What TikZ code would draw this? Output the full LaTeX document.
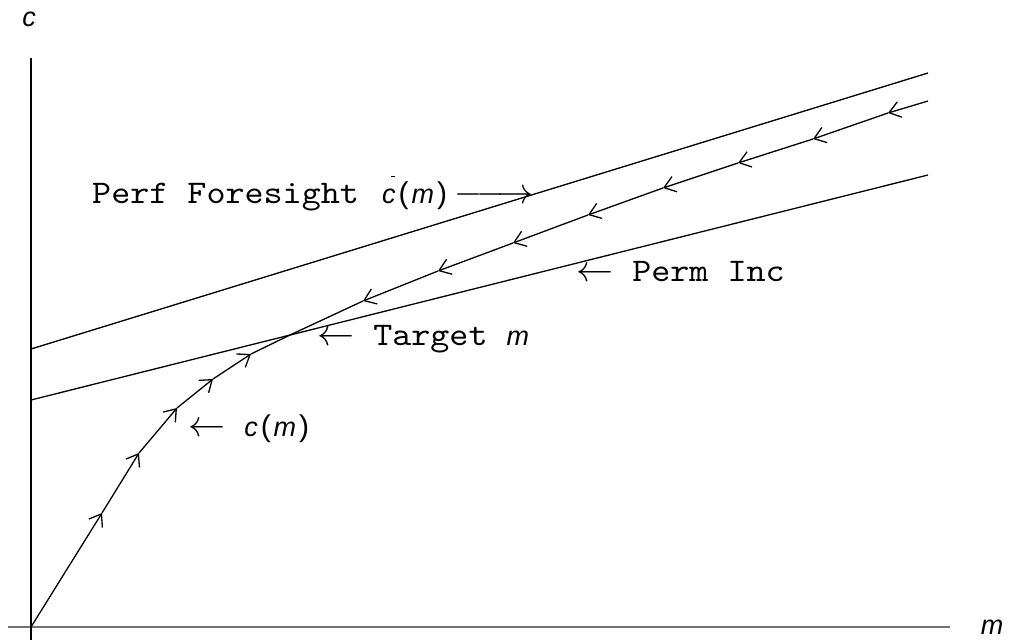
\RequirePackage{fix-cm}
\documentclass[tikz,border=0pt]{standalone}
\usepackage{fontspec}
\setmonofont{lmmono10-regular.otf}[FakeStretch=1.1]
\newfontfamily\msans{Liberation Sans}
\usetikzlibrary{arrows.meta}
\newcommand\lblfont{\fontsize{33}{38}\selectfont\ttfamily}
\newcommand\mi[1]{{\fontsize{27}{30}\selectfont\msans\itshape #1}}
\newcommand\pa[1]{{\fontsize{30}{30}\selectfont\msans\kern3pt#1\kern3pt}}
\newcommand\larr{{\fontsize{37}{40}\selectfont$\leftarrow$}}
\newcommand\rarr{{\fontsize{36}{40}\selectfont$\relbar\joinrel\relbar\joinrel\rightarrow$}}
\tikzset{
  line/.style={line width=1.3pt, black},
  axisv/.style={line width=1.3pt, black},
  axish/.style={line width=1.3pt, black!55},
  seg/.style={line width=1.3pt, black},
  tipseg/.style={seg, -{Straight Barb[length=11pt,width=16pt,line width=1.3pt]}},
  lbl/.style={anchor=base west, inner sep=0pt, font=\lblfont},
  axlbl/.style={inner sep=0pt},
}
\begin{document}
\begin{tikzpicture}[x=1pt,y=-1pt]
\useasboundingbox (0,0) rectangle (1010,643);
% axes
\coordinate (vbot) at (31,640);
\coordinate (vtop) at (31,58);
\coordinate (hl) at (8,627);
\coordinate (hr) at (950,627);
\draw[axish] (hl) -- (hr);
\draw[axisv] (vbot) -- (vtop);
\node[axlbl] (lc) at (29,19) {\mi{c}};
\node[axlbl] (lm) at (992,627) {\mi{m}};
% perfect foresight and permanent income lines
\coordinate (pf0) at (31,349);
\coordinate (pf1) at (928,73);
\coordinate (pi0) at (31,400);
\coordinate (pi1) at (928,175);
\draw[line] (pf0) -- (pf1);
\draw[line] (pi0) -- (pi1);
% consumption function c(m)
\coordinate (O) at (31,627);
\coordinate (a1) at (102,513);
\coordinate (a2) at (139,453);
\coordinate (a3) at (177,408);
\coordinate (a4) at (213,379);
\coordinate (a5) at (251,354);
\coordinate (T) at (290,335);
\coordinate (E) at (928,101);
\coordinate (b1) at (888,113);
\coordinate (b2) at (813,139);
\coordinate (b3) at (738,163);
\coordinate (b4) at (663,188);
\coordinate (b5) at (588,215);
\coordinate (b6) at (513,243);
\coordinate (b7) at (438,271);
\coordinate (b8) at (363,301);
\draw[tipseg] (O) -- (a1);
\draw[tipseg] (a1) -- (a2);
\draw[tipseg] (a2) -- (a3);
\draw[tipseg] (a3) -- (a4);
\draw[tipseg] (a4) -- (a5);
\draw[seg] (a5) -- (T);
\draw[tipseg] (E) -- (b1);
\draw[tipseg] (b1) -- (b2);
\draw[tipseg] (b2) -- (b3);
\draw[tipseg] (b3) -- (b4);
\draw[tipseg] (b4) -- (b5);
\draw[tipseg] (b5) -- (b6);
\draw[tipseg] (b6) -- (b7);
\draw[tipseg] (b7) -- (b8);
\draw[seg] (b8) -- (T);
% labels
\node[lbl] (lpf) at (92,203) {Perf Foresight\kern4pt\ \rlap{\kern9pt\rule[26pt]{4pt}{1pt}}\mi{c}\pa{(}\mi{m}\pa{)}\kern4pt\rarr};
\node[lbl] (lpi) at (576,281) {\larr{} Perm Inc};
\node[lbl] (ltm) at (317,345) {\larr{} Target \mi{m}};
\node[lbl] (lcm) at (188,436) {\larr{} \mi{c}\pa{(}\mi{m}\pa{)}};
\end{tikzpicture}
\end{document}
